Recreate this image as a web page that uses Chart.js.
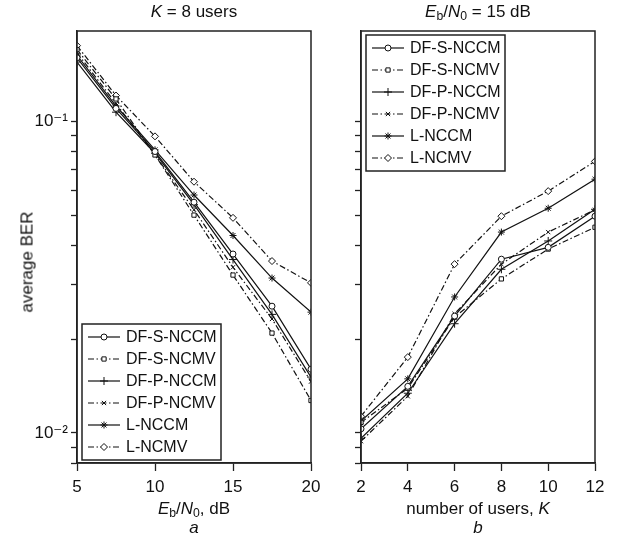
<!DOCTYPE html>
<html>
<head>
<meta charset="utf-8">
<script src="https://cdn.jsdelivr.net/npm/chart.js@4.4.1/dist/chart.umd.min.js"></script>
<style>
  body { margin: 0; background: #fff; }
  #wrap { position: relative; width: 620px; height: 537px; font-family: "Liberation Sans", Arial, sans-serif; color: #111; }
  canvas { position: absolute; left: 0; top: 0; }
  .lbl { position: absolute; white-space: nowrap; font-size: 17px; transform: translate(-50%, -50%); line-height: 1; }
  .lbl sub { font-size: 0.72em; vertical-align: -0.3em; line-height: 0; }
  .rot { transform: translate(-50%, -50%) rotate(-90deg); }
</style>
</head>
<body>
<div id="wrap">
  <canvas id="chartA" width="620" height="537"></canvas>
  <canvas id="chartB" width="620" height="537"></canvas>
  <div class="lbl" style="left:194px; top:11px"><i>K</i> = 8 users</div>
  <div class="lbl" style="left:478px; top:11px"><i>E</i><sub>b</sub>/<i>N</i><sub>0</sub> = 15 dB</div>
  <div class="lbl rot" style="left:27px; top:262px">average BER</div>
  <div class="lbl" style="left:194px; top:508px"><i>E</i><sub>b</sub>/<i>N</i><sub>0</sub>, dB</div>
  <div class="lbl" style="left:478px; top:508px">number of users, <i>K</i></div>
  <div class="lbl" style="left:194px; top:527px"><i>a</i></div>
  <div class="lbl" style="left:478px; top:527px"><i>b</i></div>
</div>
<script>
// x values
const snrDb = [5, 7.5, 10, 12.5, 15, 17.5, 20];
const userCounts = [2, 4, 6, 8, 10, 12];
const schemeNames = ['DF-S-NCCM', 'DF-S-NCMV', 'DF-P-NCCM', 'DF-P-NCMV', 'L-NCCM', 'L-NCMV'];

// (a) average BER vs Eb/N0, K = 8 users
const berSnrDfsNccm = [0.160, 0.110, 0.080, 0.055, 0.0375, 0.0255, 0.0160];
const berSnrDfsNcmv = [0.170, 0.118, 0.078, 0.050, 0.0321, 0.0209, 0.0127];
const berSnrDfpNccm = [0.155, 0.107, 0.079, 0.054, 0.0360, 0.0240, 0.0151];
const berSnrDfpNcmv = [0.166, 0.114, 0.078, 0.052, 0.0340, 0.0232, 0.0146];
const berSnrLNccm   = [0.163, 0.112, 0.081, 0.058, 0.0430, 0.0314, 0.0244];
const berSnrLNcmv   = [0.175, 0.121, 0.0895, 0.064, 0.0490, 0.0356, 0.0303];

// (b) average BER vs number of users, Eb/N0 = 15 dB
const berUsersDfsNccm = [0.0103, 0.0141, 0.0237, 0.0361, 0.0394, 0.0496];
const berUsersDfsNcmv = [0.0108, 0.0139, 0.0235, 0.0312, 0.0389, 0.0457];
const berUsersDfpNccm = [0.0096, 0.0134, 0.0224, 0.0335, 0.0413, 0.0522];
const berUsersDfpNcmv = [0.0094, 0.0131, 0.0241, 0.0348, 0.0441, 0.0520];
const berUsersLNccm   = [0.0109, 0.0149, 0.0273, 0.0441, 0.0526, 0.0652];
const berUsersLNcmv   = [0.0113, 0.0175, 0.0348, 0.0496, 0.0597, 0.0744];

// axis ticks
const yMin = 0.008, yMax = 0.195;
const yDecades = [0.01, 0.1];
const yDecadeLabels = ['10\u207B\u00B2', '10\u207B\u00B9'];

const FONT = '"Liberation Sans", Arial, sans-serif';
const INK = '#111';
const DASH_DOT = [6, 2.5, 1.5, 2.5];

const schemeStyle = {
  'DF-S-NCCM': { marker: 'circle',   dash: [],       fill: '#fff', r: 3 },
  'DF-S-NCMV': { marker: 'rect',     dash: DASH_DOT, fill: '#fff', r: 3 },
  'DF-P-NCCM': { marker: 'cross',    dash: [],       fill: INK,    r: 4 },
  'DF-P-NCMV': { marker: 'crossRot', dash: DASH_DOT, fill: INK,    r: 3 },
  'L-NCCM':    { marker: 'star',     dash: [],       fill: INK,    r: 3.5 },
  'L-NCMV':    { marker: 'rectRot',  dash: DASH_DOT, fill: '#fff', r: 3.5 }
};

// all log ticks 1..9 x 10^n inside the range
function logTicks() {
  const out = [];
  [0.001, 0.01, 0.1].forEach(d => {
    for (let m = 1; m <= 9; m++) {
      const v = +(m * d).toPrecision(3);
      if (v >= yMin - 1e-9 && v <= yMax) out.push({ value: v });
    }
  });
  return out;
}

function makeDatasets(xs, series) {
  return schemeNames.map((name, i) => {
    const st = schemeStyle[name];
    return {
      label: name,
      data: xs.map((x, j) => ({ x: x, y: series[i][j] })),
      borderColor: INK,
      borderWidth: 1.2,
      borderDash: st.dash,
      pointStyle: st.marker,
      pointRadius: st.r,
      pointBorderWidth: 1,
      pointBackgroundColor: st.fill,
      pointBorderColor: INK,
      tension: 0
    };
  });
}

// box round the plot plus a boxed legend
const panelFrame = {
  id: 'panelFrame',
  afterDatasetsDraw(chart, args, opts) {
    const { ctx, chartArea: a } = chart;
    ctx.save();
    ctx.strokeStyle = '#222';
    ctx.lineWidth = 1.5;
    ctx.strokeRect(a.left, a.top, a.right - a.left, a.bottom - a.top);

    const x = opts.x, y = opts.y, w = 139, rowH = 22, h = 136;
    ctx.fillStyle = '#fff';
    ctx.fillRect(x, y, w, h);
    ctx.lineWidth = 1.5;
    ctx.strokeRect(x, y, w, h);
    ctx.font = '16px ' + FONT;
    ctx.textBaseline = 'middle';
    chart.data.datasets.forEach((ds, i) => {
      const cy = y + 13 + i * rowH;
      ctx.strokeStyle = ds.borderColor;
      ctx.lineWidth = ds.borderWidth;
      ctx.setLineDash(ds.borderDash);
      ctx.beginPath();
      ctx.moveTo(x + 6, cy);
      ctx.lineTo(x + 38, cy);
      ctx.stroke();
      ctx.setLineDash([]);
      ctx.fillStyle = ds.pointBackgroundColor;
      ctx.lineWidth = ds.pointBorderWidth;
      Chart.helpers.drawPoint(ctx, { pointStyle: ds.pointStyle, radius: ds.pointRadius, borderWidth: ds.pointBorderWidth, rotation: 0 }, x + 22, cy);
      ctx.fillStyle = INK;
      ctx.fillText(ds.label, x + 44, cy + 1);
    });
    ctx.restore();
  }
};

function makeChart(id, xs, series, xMin, xMax, xStep, showYLabels, pad, legendAt, yAxisWidth) {
  return new Chart(document.getElementById(id), {
    type: 'line',
    data: { datasets: makeDatasets(xs, series) },
    plugins: [panelFrame],
    options: {
      responsive: false,
      animation: false,
      events: [],
      layout: { padding: pad },
      plugins: {
        legend: { display: false },
        tooltip: { enabled: false },
        panelFrame: legendAt
      },
      scales: {
        x: {
          type: 'linear',
          min: xMin,
          max: xMax,
          afterFit: s => { s.height = 537 - 463; },
          border: { color: '#222', width: 1.5 },
          grid: { drawOnChartArea: false, tickLength: 8, color: '#222', tickWidth: 1.3 },
          ticks: { stepSize: xStep, padding: 6, color: INK, font: { family: FONT, size: 17 } }
        },
        y: {
          type: 'logarithmic',
          min: yMin,
          max: yMax,
          afterFit: s => { s.width = yAxisWidth; },
          afterBuildTicks: s => { s.ticks = logTicks(); },
          border: { color: '#222', width: 1.5 },
          grid: { drawOnChartArea: false, tickLength: 6, color: '#222', tickWidth: 1.3 },
          ticks: {
            autoSkip: false,
            padding: 3,
            color: INK,
            font: { family: FONT + ', "DejaVu Sans"', size: 17 },
            callback: v => {
              if (!showYLabels) return '';
              const k = yDecades.findIndex(d => Math.abs(d - v) < 1e-9);
              return k >= 0 ? yDecadeLabels[k] : '';
            }
          }
        }
      }
    }
  });
}

makeChart('chartA', snrDb,
  [berSnrDfsNccm, berSnrDfsNcmv, berSnrDfpNccm, berSnrDfpNcmv, berSnrLNccm, berSnrLNcmv],
  5, 20, 5, true,
  { top: 31, right: 620 - 311, bottom: 0, left: 0 },
  { x: 82, y: 324 }, 77);

makeChart('chartB', userCounts,
  [berUsersDfsNccm, berUsersDfsNcmv, berUsersDfpNccm, berUsersDfpNcmv, berUsersLNccm, berUsersLNcmv],
  2, 12, 2, false,
  { top: 31, right: 620 - 595, bottom: 0, left: 351 },
  { x: 366, y: 35 }, 10);
</script>
</body>
</html>
